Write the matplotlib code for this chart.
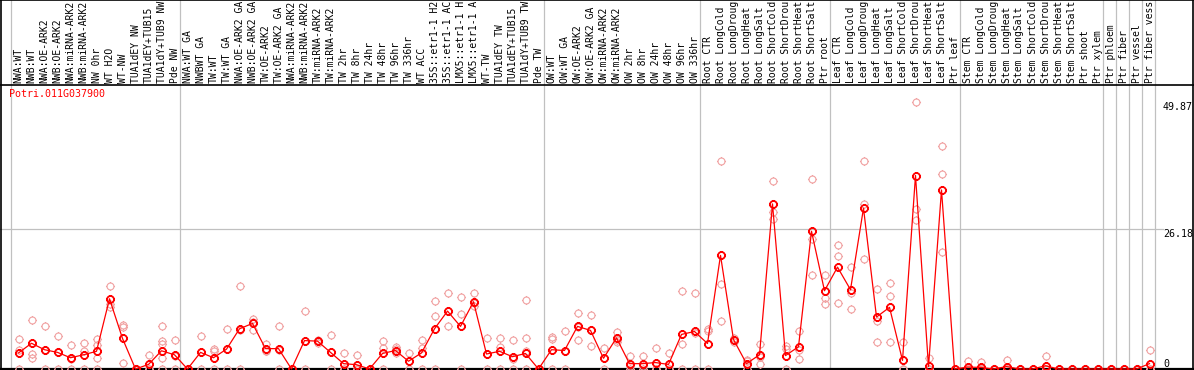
import numpy as np
import matplotlib
matplotlib.use("Agg")
import matplotlib.pyplot as plt
from matplotlib.path import Path
from matplotlib.transforms import blended_transform_factory

gene = "Potri.011G037900"

labels = [
    "NWA:WT", "NWB:WT", "NWA:OE-ARK2", "NWB:OE-ARK2", "NWA:miRNA-ARK2", "NWB:miRNA-ARK2",
    "NW 0hr", "WT H2O", "WT-NW", "TUA1dEY NW", "TUA1dEY+TUB15 NW", "TUA1dY+TUB9 NW", "Pde NW",
    "NWA:WT GA", "NWBWT GA", "TW:WT", "TW:WT GA", "NWA:OE-ARK2 GA", "NWB:OE-ARK2 GA",
    "TW:OE-ARK2", "TW:OE-ARK2 GA", "NWA:miRNA-ARK2 GA", "NWB:miRNA-ARK2 GA", "TW:miRNA-ARK2",
    "TW:miRNA-ARK2 GA", "TW 2hr", "TW 8hr", "TW 24hr", "TW 48hr", "TW 96hr", "TW 336hr",
    "WT ACC", "35S::etr1-1 H2O", "35S::etr1-1 ACC", "LMX5::etr1-1 H2O", "LMX5::etr1-1 ACC",
    "WT-TW", "TUA1dEY TW", "TUA1dEY+TUB15 TW", "TUA1dY+TUB9 TW", "Pde TW",
    "OW:WT", "OW:WT GA", "OW:OE-ARK2", "OW:OE-ARK2 GA", "OW:miRNA-ARK2", "OW:miRNA-ARK2 GA",
    "OW 2hr", "OW 8hr", "OW 24hr", "OW 48hr", "OW 96hr", "OW 336hr",
    "Root CTR", "Root LongCold", "Root LongDrought", "Root LongHeat", "Root LongSalt",
    "Root ShortCold", "Root ShortDrought", "Root ShortHeat", "Root ShortSalt", "Ptr root",
    "Leaf CTR", "Leaf LongCold", "Leaf LongDrought", "Leaf LongHeat", "Leaf LongSalt",
    "Leaf ShortCold", "Leaf ShortDrought", "Leaf ShortHeat", "Leaf ShortSalt", "Ptr leaf",
    "Stem CTR", "Stem LongCold", "Stem LongDrought", "Stem LongHeat", "Stem LongSalt",
    "Stem ShortCold", "Stem ShortDrought", "Stem ShortHeat", "Stem ShortSalt", "Ptr shoot",
    "Ptr xylem", "Ptr phloem", "Ptr fiber", "Ptr vessel", "Ptr fiber vessel",
]

# mean expression per sample
means = [
    3.0, 4.8, 3.6, 3.1, 2.1, 2.65, 3.3, 13.1, 5.7, 0, 0.85, 3.4, 2.65,
    0, 3.1, 2.1, 3.7, 7.5, 8.5, 3.8, 3.8, 0, 5.3, 5.2, 3.1, 1.0, 0.8, 0,
    2.9, 3.45, 1.45, 3.0, 7.5, 10.8, 7.95, 12.55, 2.8, 3.3, 2.3, 2.9, 0,
    3.6, 3.45, 7.95, 7.2, 2.0, 5.8, 1.0, 1.0, 1.2, 0.85, 6.45, 7.0,
    4.75, 21.2, 5.5, 1.0, 2.65, 30.8, 2.5, 4.15, 25.7, 14.6,
    19.0, 14.8, 30.0, 9.7, 11.5, 1.6, 36.1, 0.47, 33.4, 0,
    0.35, 0.3, 0, 0.45, 0, 0, 0.6, 0, 0, 0,
    0, 0, 0, 0, 1.0,
]

# individual replicates per sample
reps = [
    [5.6, 3.5, 0], [9.2, 2.8, 2.1], [7.95, 3.6, 0], [6.2, 3.1, 0], [4.4, 1.9, 0],
    [4.8, 3.3, 0], [5.6, 4.4, 2.1, 0], [15.4, 12.2, 11.6], [8.3, 7.8, 1.2], [0, 0, 0],
    [2.65, 0, 0], [7.95, 5.2, 4.7, 2.1, 0], [5.45, 2.5, 0],
    [0, 0, 0], [6.2, 3.1, 0], [3.8, 3.4, 0], [7.5, 3.7, 0], [15.4, 7.2, 0],
    [9.4, 8.8, 7.3], [4.7, 3.45, 3.3], [7.95, 3.5, 0], [0, 0, 0], [10.75, 5.2, 0],
    [5.5, 5.2, 4.8], [6.3, 3.1, 0], [3.0, 0, 0], [2.7, 0, 0], [0, 0, 0],
    [5.2, 4.0, 0], [4.1, 3.8, 3.0], [3.0, 1.4, 0], [5.5, 4.0, 0], [12.75, 9.8, 0],
    [14.1, 10.9, 7.95], [13.5, 10.3, 0], [14.1, 12.3, 11.7], [5.8, 2.8, 0],
    [5.8, 4.1, 0], [5.45, 1.9, 0], [12.9, 5.8, 3.45, 0], [0, 0, 0],
    [6.0, 5.6, 0], [7.0, 3.4, 0], [10.5, 7.9, 5.5], [10.1, 7.2, 4.2], [4.0, 2.0, 0],
    [6.9, 5.5, 5.0], [2.4, 0.6, 0], [2.5, 0.5, 0], [4.0, 0, 0], [3.0, 0, 0],
    [14.6, 4.7, 0], [14.25, 6.8, 0],
    [7.5, 7.0, 0], [38.8, 15.8, 9.0], [5.8, 5.5, 5.0], [1.6, 1.4, 0], [4.7, 2.3, 0.9],
    [35.0, 29.3, 27.9], [4.2, 3.8, 0], [7.0, 3.6, 1.8], [35.4, 24.3, 17.5],
    [17.5, 13.3, 12.2],
    [23.2, 21.0, 12.4], [19.0, 14.25, 11.25], [38.8, 30.8, 20.6], [14.9, 8.9, 5.1],
    [16.1, 13.55, 5.1], [5.0, 0, 0], [49.87, 29.8, 27.8], [2.1, 0, 0],
    [41.6, 36.3, 21.8], [0, 0, 0],
    [1.45, 0, 0], [1.25, 0, 0], [0, 0, 0], [1.7, 0, 0], [0, 0, 0], [0, 0, 0],
    [2.5, 0, 0], [0, 0, 0], [0, 0, 0], [0, 0, 0],
    [0, 0, 0], [0, 0, 0], [0, 0, 0], [0, 0, 0], [3.6, 0, 0],
]

# last sample of each group (1-based), separators drawn after these
group_ends = [0, 13, 41, 53, 63, 73, 84, 85, 86, 87, 88]
y_ticks = [0, 26.18, 49.87]
y_ticklabels = ["0", "26.18", "49.87"]

W, H = 1194, 370
col = 13.0      # pixels per sample
first = 18.5    # pixel of first sample centre
ppu = 5.36      # pixels per expression unit
zero = 1.0      # pixel of zero above bottom edge
header = 85     # header line, pixels from top
mono = "DejaVu Sans Mono"
fs = 7.2
maxchars = 14   # header only has room for this many characters

fig = plt.figure(figsize=(W / 100, H / 100), dpi=100)
ax = fig.add_axes([0, 0, 1, 1])
ax.set_xlim(-first / col, (W - first) / col)
ax.set_ylim(-zero / ppu, (H - zero) / ppu)
ax.axis("off")

# ring marker with four little ticks
t = np.linspace(0, 2 * np.pi, 33)
verts = list(zip(np.cos(t), np.sin(t)))
codes = [Path.MOVETO] + [Path.LINETO] * (len(t) - 1)
for dx, dy in [(1, 0), (-1, 0), (0, 1), (0, -1)]:
    verts += [(dx, dy), (1.3 * dx, 1.3 * dy)]
    codes += [Path.MOVETO, Path.LINETO]
ring = Path(verts, codes)

xt = ax.get_xaxis_transform()
yt = blended_transform_factory(ax.transAxes, ax.transData)

# grey grid
for g in group_ends:
    ax.plot([g - 0.6, g - 0.6], [0, 1], transform=xt, color="#c0c0c0", lw=0.9, zorder=1)
ax.plot([0, 1163 / W], [26.18, 26.18], transform=yt, color="#c0c0c0", lw=0.9, zorder=1)

# frame
ax.plot([0, 1], [1 - header / H] * 2, transform=ax.transAxes, color="black", lw=1.2, zorder=2)
ax.plot([0, 1], [0.999, 0.999], transform=ax.transAxes, color="black", lw=1.2, zorder=2)
ax.plot([0.0008, 0.0008], [0, 1], transform=ax.transAxes, color="black", lw=1.2, zorder=2)
ax.plot([1192.5 / W] * 2, [0, 1], transform=ax.transAxes, color="black", lw=1.2, zorder=2)
ax.plot([0, 1], [0.0025, 0.0025], transform=ax.transAxes, color="black", lw=1.6, zorder=2)

# replicates
for i, r in enumerate(reps):
    ax.plot([i] * len(r), r, ls="none", marker=ring, ms=6.5, mec="#f0a0a0",
            mfc="none", mew=0.8, zorder=3)

# means
x = np.arange(len(means))
ax.plot(x, means, color="red", lw=0.9, zorder=4)
ax.plot(x, means, ls="none", marker=ring, ms=6.5, mec="red", mfc="none", mew=1.3, zorder=5)

# sample labels, cut to the header height like the original
for i, lab in enumerate(labels):
    ax.text(i, 1 - 83 / H, lab[:maxchars].rstrip(), transform=xt, rotation=90,
            ha="center", va="bottom", fontsize=7.0, family=mono)

ax.text(9 / W, 1 - 89 / H, gene, transform=ax.transAxes, color="red", ha="left",
        va="top", fontsize=fs, family=mono)

for v, s in zip(y_ticks, y_ticklabels):
    ax.text(1163 / W, v, s, transform=yt, ha="left", va="bottom" if v == 0 else "top",
            fontsize=fs, family=mono)

fig.savefig("out.png", dpi=100)
